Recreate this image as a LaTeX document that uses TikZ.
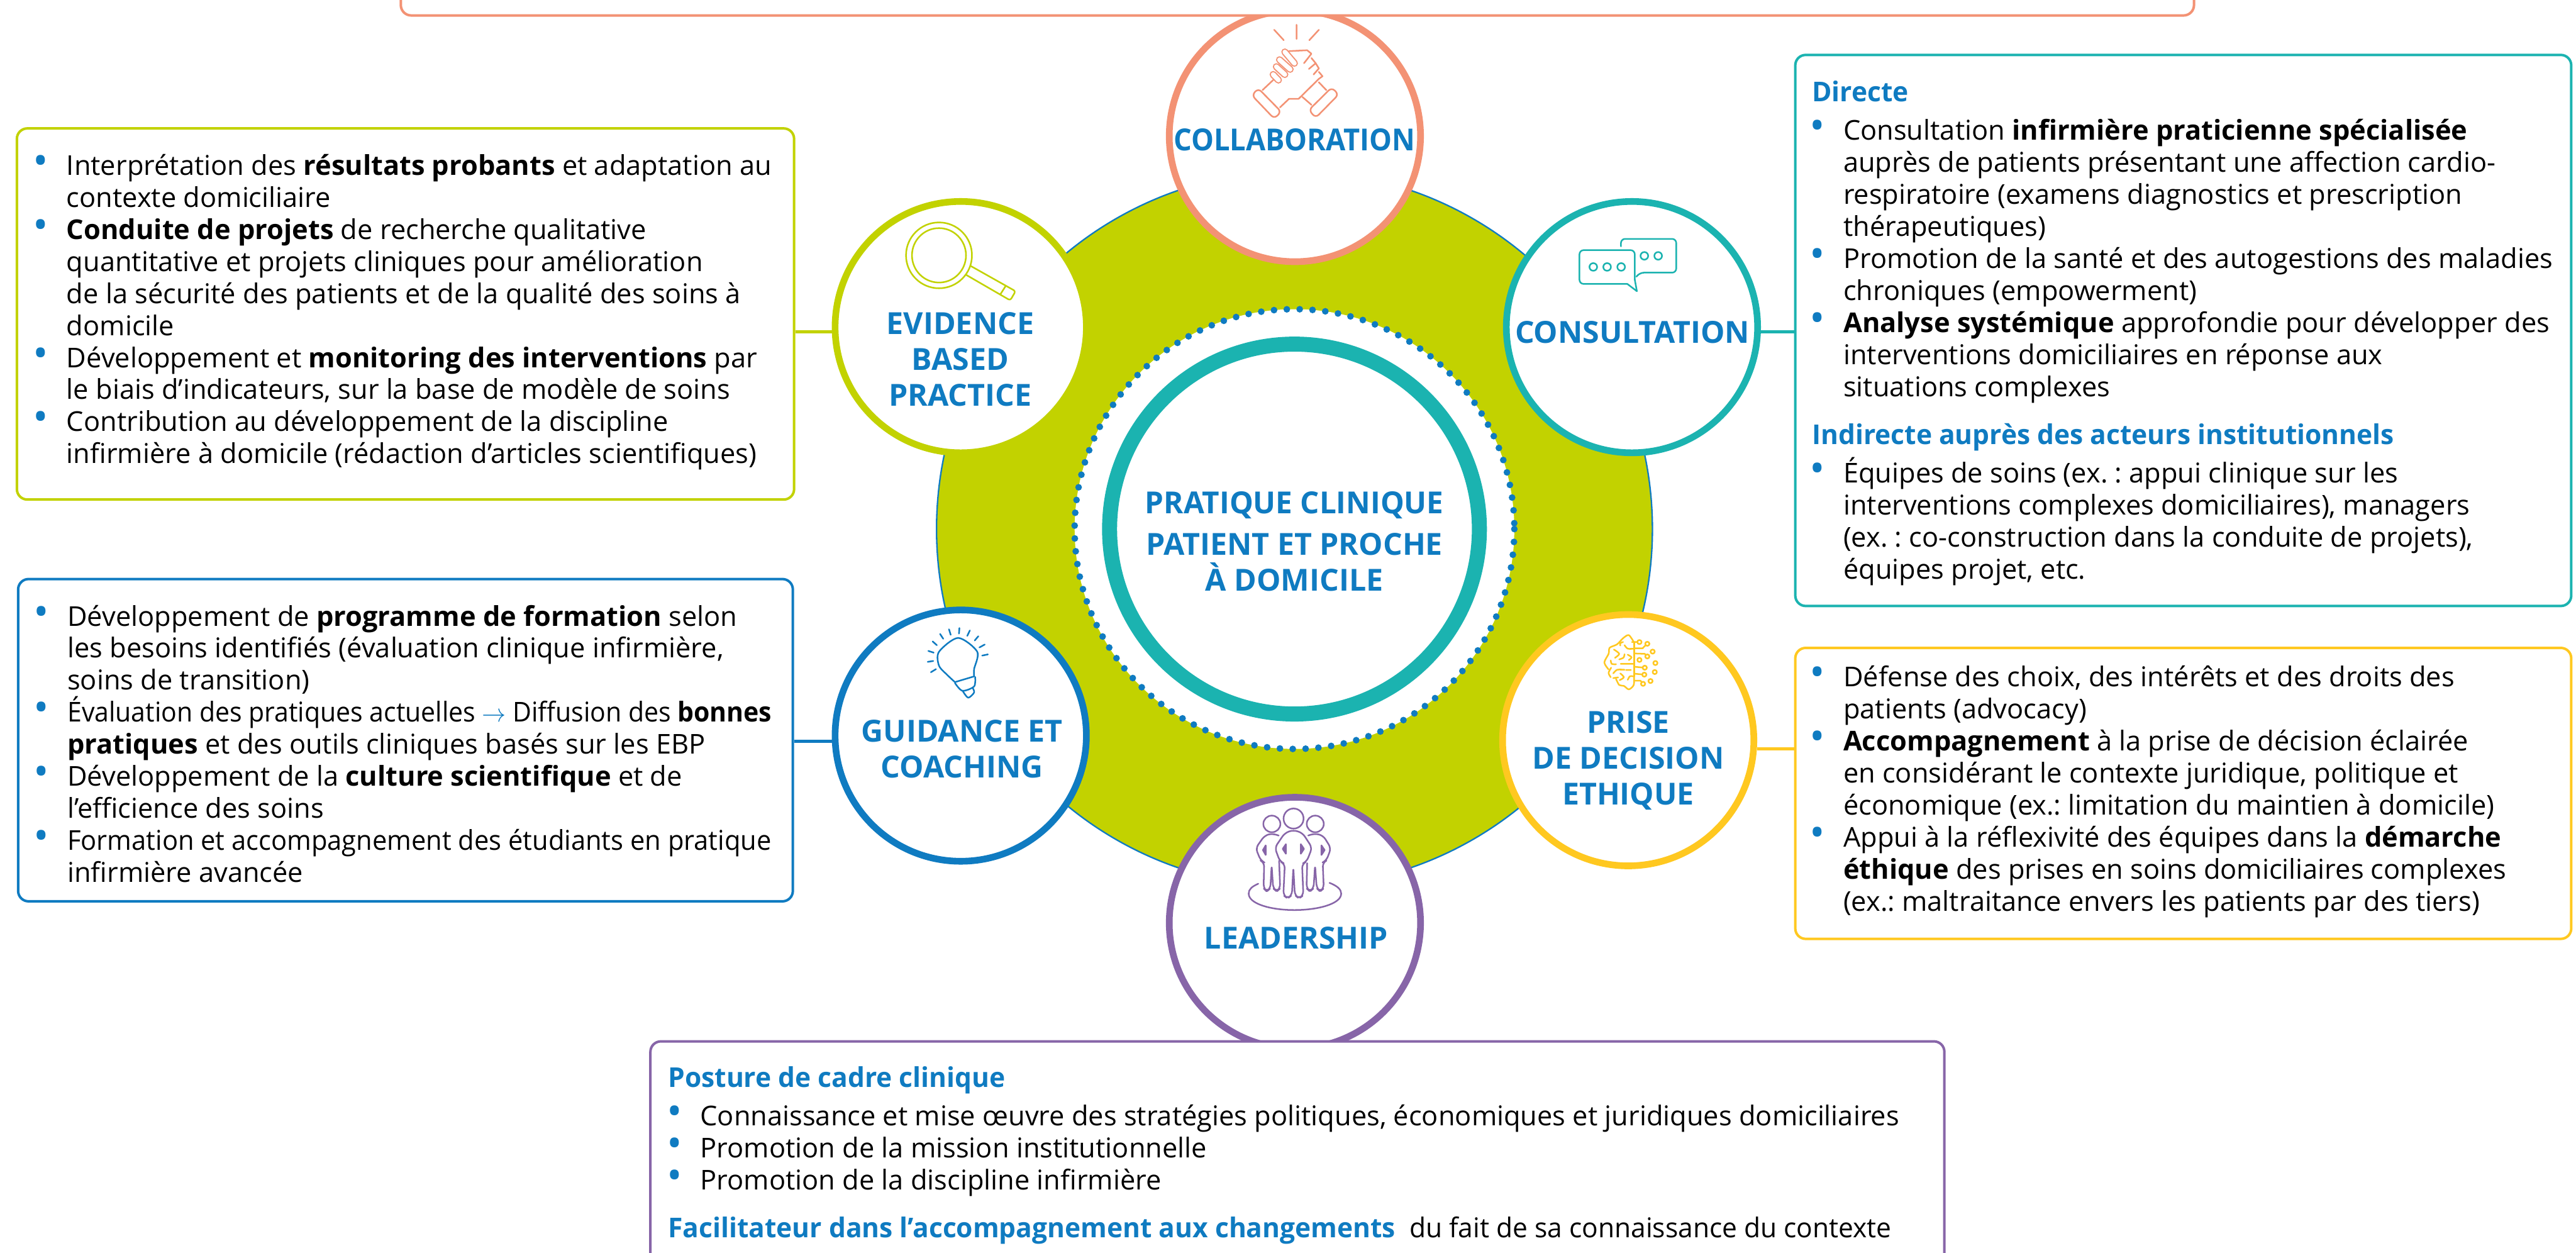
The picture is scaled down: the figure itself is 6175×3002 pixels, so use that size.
\documentclass[tikz,border=0pt]{standalone}
\usepackage{fontspec}
\setmainfont{Open Sans}
\usepackage{tikz}
\usetikzlibrary{positioning}
\definecolor{limeg}{HTML}{C2D200}
\definecolor{tealc}{HTML}{1BB3B0}
\definecolor{salmon}{HTML}{F39274}
\definecolor{violet}{HTML}{8765A8}
\definecolor{amber}{HTML}{FFC820}
\definecolor{roleblue}{HTML}{0F7BC1}
\newcommand{\fl}{\rule{0pt}{20pt}}
\newcommand{\bl}{\llap{\textcolor{roleblue}{\fontsize{28}{28}\selectfont •}\hspace{12.4pt}}}
\newcommand{\hd}[1]{\scalebox{0.98}[1]{\textcolor{roleblue}{\bfseries #1}}}
\tikzset{
  satellite/.style={circle,draw=#1,fill=white,line width=1.6mm,minimum size=6.02cm,inner sep=0pt},
  infobox/.style={rectangle,draw=#1,fill=white,line width=0.6mm,rounded corners=2.5mm,inner sep=0pt},
  link/.style={draw=#1,line width=0.7mm},
  rolelabel/.style={font=\fontsize{20.7}{24.5}\selectfont\bfseries,text=roleblue,align=center,anchor=north,inner sep=0pt},
  bodytext/.style={font=\fontsize{18.6}{21.82}\selectfont\frenchspacing,align=left,anchor=north west,inner sep=0pt},
  iconframe/.style 2 args={shift={(#1,#2)},x=0.0051cm,y=-0.004146cm},
  icon/.style={draw=#1,line width=0.38mm,line cap=round,line join=round},
  capsule/.style={draw=#1,line width=0.3mm,double=white,double distance=1.1mm,line cap=round}
}
\begin{document}
\begin{tikzpicture}[x=0.01cm,y=-0.01cm]
\useasboundingbox (0,0) rectangle (6175,3002);
\clip (0,0) rectangle (6175,3002);
\path[fill=limeg,draw=roleblue,line width=0.35mm] (3103,1268) circle (858);
\path[fill=white] (3103,1268) circle (527);
\draw[roleblue,line width=1.6mm,line cap=round,dash pattern=on 0pt off 3.08mm] (3103,1268) circle (527);
\node[circle,draw=tealc,fill=white,line width=3.6mm,minimum size=8.86cm,inner sep=0pt] (core) at (3103,1268) {};
\node[rolelabel] (corelabel) at (3103,1177) {\scalebox{0.985}[1]{PRATIQUE CLINIQUE}\\[3.9pt]PATIENT ET PROCHE\\À DOMICILE};

\coordinate (evidencelink) at (1903,795);
\coordinate (consultlink) at (4303,795);
\coordinate (guidancelink) at (1900,1777);
\coordinate (ethicslink) at (4303,1795);

\node[infobox=limeg,minimum width=18.62cm,minimum height=8.89cm] (evidencebox) at (972,752.5) {};
\node[infobox=tealc,minimum width=18.59cm,minimum height=13.2cm] (consultbox) at (5233.5,792) {};
\node[infobox=roleblue,minimum width=18.56cm,minimum height=7.72cm] (guidancebox) at (972,1774) {};
\node[infobox=amber,minimum width=18.59cm,minimum height=6.97cm] (ethicsbox) at (5233.5,1901.5) {};

\node[satellite=limeg] (evidence) at (2303,784) {};
\node[satellite=tealc] (consult) at (3912,784) {};
\node[satellite=roleblue] (guidance) at (2303,1763) {};
\node[satellite=amber] (ethics) at (3903,1774) {};
\node[satellite=salmon] (collab) at (3104,326) {};
\node[satellite=violet] (leader) at (3104,2212) {};

\draw[link=limeg] (evidencebox.east |- evidencelink) -- (evidence.west |- evidencelink);
\draw[link=tealc] (consultbox.west |- consultlink) -- (consult.east |- consultlink);
\draw[link=roleblue] (guidancebox.east |- guidancelink) -- (guidance.west |- guidancelink);
\draw[link=amber] (ethicsbox.west |- ethicslink) -- (ethics.east |- ethicslink);

\node[infobox=salmon,minimum width=42.96cm,minimum height=2cm] (collabbox) at (3110,-63) {};
\node[infobox=violet,minimum width=31cm,minimum height=6cm] (leaderbox) at (3110,2796) {};

\node[rolelabel] (collablabel) at (3103,307) {\scalebox{0.936}[1]{COLLABORATION}};
\node[rolelabel] (evidencelabel) at (2302,748) {EVIDENCE\\BASED\\PRACTICE};
\node[rolelabel] (consultlabel) at (3913,769) {CONSULTATION};
\node[rolelabel] (guidancelabel) at (2306,1725) {GUIDANCE ET\\COACHING};
\node[rolelabel] (ethicslabel) at (3903,1703) {PRISE\\DE DECISION\\ETHIQUE};
\node[rolelabel] (leaderlabel) at (3107,2220) {LEADERSHIP};

\node[bodytext] (evidencetext) at (159,349) {\fl\bl Interprétation des \textbf{résultats probants} et adaptation au\\
contexte domiciliaire\\
\bl\textbf{Conduite de projets} de recherche qualitative\\
quantitative et projets cliniques pour amélioration\\
de la sécurité des patients et de la qualité des soins à\\
domicile\\
\bl Développement et \textbf{monitoring des interventions} par\\
le biais d’indicateurs, sur la base de modèle de soins\\
\bl Contribution au développement de la discipline\\
infirmière à domicile (rédaction d’articles scientifiques)};

\node[bodytext] (consulttext) at (4343,173) {\fl\hd{Directe}\\[4.35pt]
\hspace{7.5mm}\bl Consultation \textbf{infirmière praticienne spécialisée}\\
\hspace{7.5mm}auprès de patients présentant une affection cardio-\\
\hspace{7.5mm}respiratoire (examens diagnostics et prescription\\
\hspace{7.5mm}thérapeutiques)\\
\hspace{7.5mm}\bl Promotion de la santé et des autogestions des maladies\\
\hspace{7.5mm}chroniques (empowerment)\\
\hspace{7.5mm}\bl\textbf{Analyse systémique} approfondie pour développer des\\
\hspace{7.5mm}interventions domiciliaires en réponse aux\\
\hspace{7.5mm}situations complexes\\[10.9pt]
\hd{Indirecte auprès des acteurs institutionnels}\\[4.35pt]
\hspace{7.5mm}\bl Équipes de soins (ex. : appui clinique sur les\\
\hspace{7.5mm}interventions complexes domiciliaires), managers\\
\hspace{7.5mm}(ex. : co-construction dans la conduite de projets),\\
\hspace{7.5mm}équipes projet, etc.};

\node[bodytext] (guidancetext) at (161,1429) {\fl\bl Développement de \textbf{programme de formation} selon\\
les besoins identifiés (évaluation clinique infirmière,\\
soins de transition)\\
\bl\scalebox{0.945}[1]{Évaluation des pratiques actuelles \textcolor{roleblue}{$\rightarrow$} Diffusion des \textbf{bonnes}}\\
\textbf{pratiques} et des outils cliniques basés sur les EBP\\
\bl Développement de la \textbf{culture scientifique} et de\\
l’efficience des soins\\
\bl\scalebox{0.96}[1]{Formation et accompagnement des étudiants en pratique}\\
infirmière avancée};

\node[bodytext] (ethicstext) at (4418,1575) {\fl\bl Défense des choix, des intérêts et des droits des\\
patients (advocacy)\\
\bl\textbf{Accompagnement} à la prise de décision éclairée\\
en considérant le contexte juridique, politique et\\
économique (ex.: limitation du maintien à domicile)\\
\bl Appui à la réflexivité des équipes dans la \textbf{démarche}\\
\textbf{éthique} des prises en soins domiciliaires complexes\\
(ex.: maltraitance envers les patients par des tiers)};

\node[bodytext] (leadertext) at (1601,2535) {\fl\hd{Posture de cadre clinique}\\[4.35pt]
\hspace{7.7mm}\bl Connaissance et mise œuvre des stratégies politiques, économiques et juridiques domiciliaires\\
\hspace{7.7mm}\bl Promotion de la mission institutionnelle\\
\hspace{7.7mm}\bl Promotion de la discipline infirmière\\[10.9pt]
\hd{Facilitateur dans l’accompagnement aux changements}\scalebox{0.98}[1]{~ du fait de sa connaissance du contexte}};

\begin{scope}[iconframe={2700}{0}]
\draw[icon=salmon] (695,172) -- (740,232) (800,143) -- (800,225) (905,172) -- (860,232);
\draw[icon=salmon,rounded corners=1mm] (620,510) -- (590,550) -- (695,685) -- (728,645) -- cycle;
\draw[icon=salmon,rounded corners=1mm] (965,505) -- (998,545) -- (890,680) -- (858,635) -- cycle;
\draw[icon=salmon] (640,520) -- (690,462) (722,620) -- (765,570) -- (810,570) -- (905,455) (905,475) -- (940,520) (828,560) -- (870,605);
\draw[capsule=salmon] (745,300) -- (790,365);
\draw[capsule=salmon] (720,345) -- (770,400);
\draw[capsule=salmon] (705,385) -- (745,430);
\draw[capsule=salmon] (690,430) -- (715,462);
\draw[icon=salmon] (765,295) -- (850,290) -- (870,310) -- (835,365) (870,335) -- (890,365) -- (858,398) (890,365) -- (905,395) -- (880,430) (905,415) -- (922,440) -- (905,455);
\end{scope}

\begin{scope}[iconframe={1950}{450}]
\draw[icon=limeg] (590,390) ellipse [x radius=155,y radius=190];
\draw[icon=limeg] (590,390) ellipse [x radius=127,y radius=157];
\draw[icon=limeg,rounded corners=0.5mm] (740,452) -- (950,597) -- (925,650) -- (718,503) (903,568) -- (880,612);
\end{scope}

\begin{scope}[iconframe={3600}{450}]
\draw[icon=tealc,rounded corners=1mm] (590,555) -- (365,555) -- (365,360) -- (625,360) -- (625,530);
\draw[icon=tealc] (590,555) -- (635,597) -- (625,530);
\draw[icon=tealc,rounded corners=1mm] (560,338) -- (560,295) -- (820,295) -- (820,490) -- (648,490) -- (633,513);
\foreach \xpos/\ypos in {430/457,495/457,561/457,670/393,735/393}
  \draw[icon=tealc] (\xpos,\ypos) ellipse [x radius=18,y radius=22];
\end{scope}

\begin{scope}[iconframe={1950}{1450}]
\draw[icon=roleblue] plot[smooth] coordinates {(665,445) (630,405) (590,350) (590,270) (680,190) (770,270) (755,370) (755,410)};
\draw[icon=roleblue] (665,445) -- (755,412);
\draw[icon=roleblue] plot[smooth] coordinates {(665,450) (700,495) (755,470) (760,415)};
\draw[icon=roleblue] plot[smooth] coordinates {(702,497) (727,535) (755,505) (748,478)};
\draw[icon=roleblue] (637,140) -- (645,172) (686,133) -- (684,165) (735,147) -- (723,178) (775,180) -- (758,205) (805,228) -- (780,245) (820,285) -- (793,292) (595,167) -- (610,195) (560,210) -- (580,232) (540,265) -- (565,275) (537,328) -- (563,323) (552,388) -- (576,370);
\end{scope}

\begin{scope}[iconframe={3550}{1430}]
\draw[icon=amber] plot[smooth] coordinates {(720,265) (695,222) (668,240) (640,275) (605,295) (600,330) (580,380) (600,420)};
\draw[icon=amber] plot[smooth] coordinates {(612,410) (600,440) (610,465)};
\draw[icon=amber] plot[smooth] coordinates {(635,475) (650,510) (672,515) (695,535) (718,510) (720,460)};
\draw[icon=amber] (720,265) -- (720,460);
\draw[icon=amber] (720,298) -- (760,298) -- (780,272) (725,328) -- (770,330) -- (782,345) (725,405) -- (770,410) (725,445) -- (768,450) (725,485) -- (750,485) -- (762,503) (710,262) -- (745,262);
\foreach \xpos/\ypos in {745/262,782/272,782/345,745/365,770/410,768/450,762/503,807/317,820/383,817/435,797/487}
  \draw[icon=amber,fill=white] (\xpos,\ypos) ellipse [x radius=10,y radius=12];
\draw[icon=amber] plot[smooth] coordinates {(625,305) (650,330) (630,353)};
\draw[icon=amber] plot[smooth] coordinates {(668,262) (655,268) (655,282)};
\draw[icon=amber] plot[smooth] coordinates {(675,280) (690,300) (720,300)};
\draw[icon=amber] plot[smooth] coordinates {(675,332) (670,352) (650,362)};
\draw[icon=amber] plot[smooth] coordinates {(690,335) (708,350) (695,366)};
\draw[icon=amber] plot[smooth] coordinates {(610,368) (615,388) (635,390)};
\draw[icon=amber] (657,388) -- (720,388) (682,423) -- (705,423) (622,470) -- (645,466);
\draw[icon=amber] plot[smooth] coordinates {(622,443) (640,422) (675,422)};
\draw[icon=amber] plot[smooth] coordinates {(655,443) (672,465) (652,482)};
\draw[icon=amber] plot[smooth] coordinates {(690,480) (700,460) (718,460)};
\end{scope}

\begin{scope}[iconframe={2700}{1880}]
\draw[icon=violet] (786,197) ellipse [x radius=47,y radius=58];
\draw[icon=violet] (684,228) ellipse [x radius=40,y radius=48];
\draw[icon=violet] (888,228) ellipse [x radius=40,y radius=48];
\draw[icon=violet,rounded corners=1mm] (745,458) -- (722,445) -- (698,365) -- (745,280) -- (785,263) -- (828,280) -- (873,365) -- (848,445) -- (826,458) -- (832,640) -- (812,658) -- (792,640) -- (785,478) -- (778,640) -- (758,658) -- (738,640) -- cycle;
\draw[icon=violet,rounded corners=1mm] (716,295) -- (685,283) -- (650,295) -- (608,368) -- (632,440) -- (648,450) -- (645,600) -- (660,618) -- (677,600) -- (683,465) -- (690,600) -- (707,618) -- (723,600) -- (718,440);
\draw[icon=violet,rounded corners=1mm] (855,295) -- (885,283) -- (925,295) -- (962,368) -- (940,440) -- (923,450) -- (928,600) -- (911,618) -- (895,600) -- (887,465) -- (880,600) -- (863,618) -- (847,600) -- (850,455);
\foreach \xpos/\ypos/\zpos in {750/345/735,820/345/835,655/352/642,917/352/932}
  \draw[icon=violet,fill=violet] (\xpos,\ypos) -- (\xpos,\ypos+55) -- (\zpos,\ypos+27) -- cycle;
\draw[icon=violet] (620,573) .. controls (590,590) and (575,605) .. (575,630) .. controls (575,690) and (680,725) .. (790,725) .. controls (900,725) and (1010,690) .. (1010,630) .. controls (1010,605) and (990,585) .. (955,568);
\end{scope}
\end{tikzpicture}
\end{document}
